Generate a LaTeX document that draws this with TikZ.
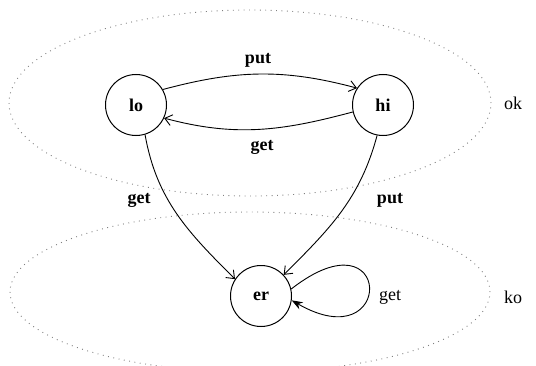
\documentclass[tikz,border=0pt]{standalone}
\usepackage{fontspec}
\setmainfont{Liberation Serif}
\usetikzlibrary{arrows.meta}
\begin{document}
\begin{tikzpicture}[x=1pt,y=1pt,
  state/.style={circle,draw,line width=1pt,minimum size=61pt,inner sep=0pt,font=\fontsize{18}{21}\selectfont\bfseries},
  edge/.style={line width=0.9pt,-{Straight Barb[length=7pt,width=11pt,line width=0.9pt]}},
  loopedge/.style={line width=0.9pt,-{Stealth[length=11pt,width=8pt]}},
  lbl/.style={font=\fontsize{18}{21}\selectfont\bfseries,inner sep=0pt},
  plain/.style={font=\fontsize{18}{21}\selectfont,inner sep=0pt},
  region/.style={draw=gray,line width=0.9pt,dash pattern=on 0.9pt off 4.5pt}]
\useasboundingbox (0,0) rectangle (536,365);
% regions
\draw[region] (250,262) ellipse [x radius=241, y radius=93];
\draw[region] (250,73) ellipse [x radius=240, y radius=80];
% states
\node[state] (lo) at (136,260) {lo};
\node[state] (hi) at (383,260) {hi};
\node[state] (er) at (261,69) {er};
% edges
\draw[edge] (lo.30) to[out=15,in=165] (hi.147);
\draw[edge] (hi.193) to[out=195,in=-15] (lo.-25);
\draw[edge] (lo.-73) to[out=-80,in=135] (er.147);
\draw[edge] (hi.-101) to[out=-105,in=45] (er.43);
\draw[loopedge] (er.13) .. controls +(38:130) and +(-30:120) .. (er.-8);
% labels
\node[lbl] (lput) at (258,305) {put};
\node[lbl] (lget) at (262,218) {get};
\node[lbl] (lget2) at (139,165) {get};
\node[lbl] (lput2) at (390,165) {put};
\node[plain] (lloop) at (390,68) {get};
\node[plain] (ok) at (513,262) {ok};
\node[plain] (ko) at (513,68) {ko};
\end{tikzpicture}
\end{document}
